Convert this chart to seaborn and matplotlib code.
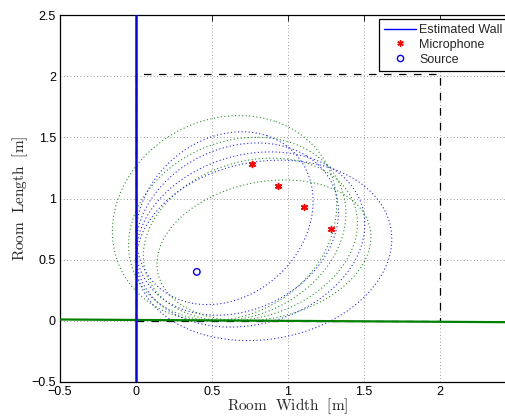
import numpy as np
import pandas as pd
import matplotlib
matplotlib.use("Agg")
import matplotlib.pyplot as plt
from matplotlib.lines import Line2D
import seaborn as sns

# Source and microphone positions [m]
source_x = [0.40]
source_y = [0.40]
mic_x = [0.765, 0.932, 1.105, 1.283]
mic_y = [1.278, 1.100, 0.930, 0.752]

# Reflected path lengths (source -> wall -> microphone) [m]
path_floor_wall = [1.717, 1.592, 1.505, 1.451]   # reflection on the y = 0 wall
path_side_wall = [1.459, 1.505, 1.596, 1.719]    # reflection on the x = 0 wall

# Estimated walls
wall_x_x = [0.0, 0.0]
wall_x_y = [-0.5, 2.5]
wall_y_x = [-0.5, 2.5]
wall_y_y = [0.011, -0.0115]

# True room outline
room_x = [0.0, 2.0, 2.0, 0.0, 0.0]
room_y = [0.0, 0.0, 2.02, 2.02, 0.0]

sns.set_style("white")
plt.rcParams["font.family"] = ["Liberation Sans", "DejaVu Sans"]
plt.rcParams["mathtext.fontset"] = "cm"

fig = plt.figure(figsize=(5.05, 4.16), dpi=100)
ax = fig.add_axes([60 / 505, 34 / 416, 456 / 505, 367 / 416])


def ellipse_points(f1, f2, length, n=400):
    f1 = np.asarray(f1, float)
    f2 = np.asarray(f2, float)
    center = (f1 + f2) / 2
    d = f2 - f1
    a = length / 2
    c = np.hypot(*d) / 2
    b = np.sqrt(a * a - c * c)
    th = np.arctan2(d[1], d[0])
    t = np.linspace(0, 2 * np.pi, n)
    ex = a * np.cos(t)
    ey = b * np.sin(t)
    x = center[0] + ex * np.cos(th) - ey * np.sin(th)
    y = center[1] + ex * np.sin(th) + ey * np.cos(th)
    return x, y


src = (source_x[0], source_y[0])
dot = (0, (1, 2.2))
for mx, my, lg, lb in zip(mic_x, mic_y, path_floor_wall, path_side_wall):
    gx, gy = ellipse_points(src, (mx, my), lg)
    ax.plot(gx, gy, color=(0, 0.5, 0), lw=0.8, ls=dot, alpha=0.85, zorder=2)
    bx, by = ellipse_points(src, (mx, my), lb)
    ax.plot(bx, by, color=(0, 0, 1), lw=0.8, ls=dot, alpha=0.85, zorder=2)

# room outline
ax.plot(room_x, room_y, color="black", lw=0.9, ls=(0, (6, 6)), zorder=3)

# estimated walls
walls = pd.DataFrame({"x": wall_y_x, "y": wall_y_y})
sns.lineplot(data=walls, x="x", y="y", color=(0, 0.5, 0), lw=1.6,
             sort=False, ax=ax, zorder=4)
wallv = pd.DataFrame({"x": wall_x_x, "y": wall_x_y})
sns.lineplot(data=wallv, x="x", y="y", color=(0, 0, 1), lw=1.8,
             sort=False, estimator=None, orient="y", ax=ax, zorder=5)

mics = pd.DataFrame({"x": mic_x, "y": mic_y})
sns.scatterplot(data=mics, x="x", y="y", marker=(6, 2, 0), color="red",
                s=18, linewidth=1.1, ax=ax, zorder=6)
srcdf = pd.DataFrame({"x": source_x, "y": source_y})
sns.scatterplot(data=srcdf, x="x", y="y", marker="o", facecolor="none",
                edgecolor="blue", s=22, linewidth=1.0, ax=ax, zorder=6)

ax.set_xlim(-0.5, 2.5)
ax.set_ylim(-0.5, 2.5)
ax.set_xticks([-0.5, 0, 0.5, 1, 1.5, 2])
ax.set_xticklabels(["\u22120.5", "0", "0.5", "1", "1.5", "2"])
ax.set_yticks([-0.5, 0, 0.5, 1, 1.5, 2, 2.5])
ax.set_yticklabels(["\u22120.5", "0", "0.5", "1", "1.5", "2", "2.5"])
ax.grid(True, color="#7a7a7a", lw=0.6, ls=(0, (1, 3)))
ax.set_axisbelow(True)
ax.tick_params(direction="in", length=4, width=0.6, labelsize=9,
               top=True, right=True, pad=3, colors="black")
for sp in ax.spines.values():
    sp.set_color("black")
    sp.set_linewidth(0.9)

ax.set_xlabel(r"$\mathrm{Room\ \ Width\ \ [m]}$", fontsize=11, labelpad=-1)
ax.set_ylabel(r"$\mathrm{Room\ \ Length\ \ [m]}$", fontsize=11, labelpad=1)

handles = [
    Line2D([], [], color="blue", lw=1.0),
    Line2D([], [], color="red", marker=(6, 2, 0), ls="none", ms=4.5, mew=1.0),
    Line2D([], [], color="blue", marker="o", mfc="none", ls="none", ms=4.5, mew=1.0),
]
leg = ax.legend(handles, ["Estimated Wall", "Microphone", "Source"],
                loc="upper right", bbox_to_anchor=(0.982, 0.989), fontsize=9,
                frameon=True, fancybox=False, framealpha=1, edgecolor="black",
                handlelength=2.5, handletextpad=0.3, borderpad=0.4,
                labelspacing=0.22, borderaxespad=0)
leg.get_frame().set_linewidth(0.9)

fig.savefig("out.png", dpi=100)
